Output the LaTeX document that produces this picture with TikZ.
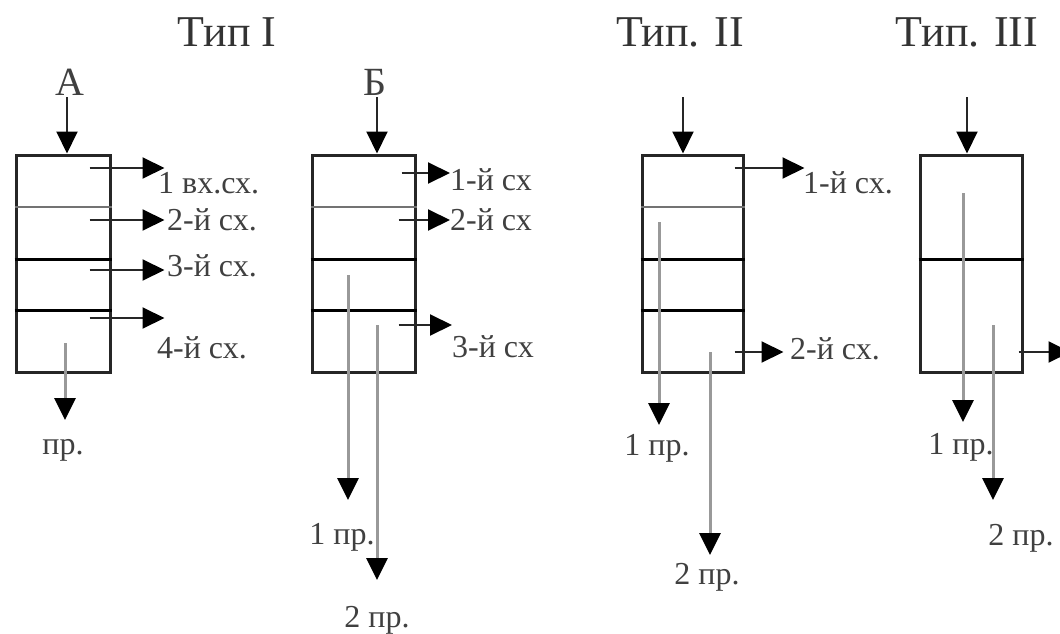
\documentclass[tikz,border=0pt]{standalone}
\usepackage{fontspec}
\setmainfont{Liberation Serif}
\usetikzlibrary{arrows.meta}
\tikzset{
  box/.style={draw=black!85, line width=3pt, inner sep=0pt, minimum height=217pt},
  septhin/.style={draw=black!55, line width=2pt},
  septhick/.style={draw=black, line width=3pt},
  arr/.style={draw=black!85, line width=2pt, -{Triangle[length=22pt,width=21pt,color=black]}},
  outarr/.style={draw=black!40, line width=3pt, -{Triangle[length=22pt,width=21pt,color=black]}},
  lbl/.style={font=\fontsize{32}{36}\selectfont, text=black!75, inner sep=0pt},
  ttl/.style={font=\fontsize{44}{48}\selectfont, text=black!80, inner sep=0pt},
  letter/.style={font=\fontsize{40}{44}\selectfont, text=black!75, inner sep=0pt}
}
\begin{document}
\begin{tikzpicture}[x=1pt,y=-1pt]
            \useasboundingbox (0,0) rectangle (1060,634);
            \node[ttl] (t1) at (227,32) {Тип I};
            \node[ttl] (t2) at (680,32) {Тип. II};
            \node[ttl] (t3) at (967,32) {Тип. III};
            \begin{scope}
                \node[box, minimum width=94pt] (bA) at (63,263.5) {};
                \draw[septhin]  (bA.west |- 0,207) -- (bA.east |- 0,207);
                \draw[septhick] (bA.west |- 0,259) -- (bA.east |- 0,259);
                \draw[septhick] (bA.west |- 0,310) -- (bA.east |- 0,310);
                \node[letter] (iA) at (70,82) {А};
                \draw[arr] (67,97) -- (67,97 |- bA.north);
                \node[lbl, anchor=west] (a1) at (158,183) {1 вх.сх.};
                \node[lbl, anchor=west] (a2) at (167,220) {2-й сх.};
                \node[lbl, anchor=west] (a3) at (167,266) {3-й сх.};
                \node[lbl, anchor=west] (a4) at (157,348) {4-й сх.};
                \draw[arr] (bA.east |- 0,168) ++(-22,0) -- ++(75,0);
                \draw[arr] (bA.east |- 0,220) ++(-22,0) -- ++(75,0);
                \draw[arr] (bA.east |- 0,270) ++(-22,0) -- ++(75,0);
                \draw[arr] (bA.east |- 0,318) ++(-22,0) -- ++(75,0);
                \node[lbl] (pA) at (63,450) {пр.};
                \draw[outarr] (65,343) -- (65,420);
            \end{scope}
            \begin{scope}
                \node[box, minimum width=103pt] (bB) at (363.5,263.5) {};
                \draw[septhin]  (bB.west |- 0,207) -- (bB.east |- 0,207);
                \draw[septhick] (bB.west |- 0,259) -- (bB.east |- 0,259);
                \draw[septhick] (bB.west |- 0,310) -- (bB.east |- 0,310);
                \node[letter] (iB) at (375,82) {Б};
                \draw[arr] (377,97) -- (377,97 |- bB.north);
                \node[lbl, anchor=west] (b1) at (450,180) {1-й сх};
                \node[lbl, anchor=west] (b2) at (450,220) {2-й сх};
                \node[lbl, anchor=west] (b3) at (452,347) {3-й сх};
                \draw[arr] (bB.east |- 0,173) ++(-15,0) -- (b1.west |- 0,173);
                \draw[arr] (bB.east |- 0,220) ++(-18,0) -- (b2.west);
                \draw[arr] (bB.east |- 0,325) ++(-18,0) -- (b3.west |- 0,325);
                \node[lbl] (pB1) at (342,537) {1 пр.};
                \node[lbl] (pB2) at (377,620) {2 пр.};
                \draw[outarr] (348,275) -- (348,500);
                \draw[outarr] (377,325) -- (377,580);
            \end{scope}
            \begin{scope}
                \node[box, minimum width=101pt] (bC) at (692.5,263.5) {};
                \draw[septhin]  (bC.west |- 0,207) -- (bC.east |- 0,207);
                \draw[septhick] (bC.west |- 0,259) -- (bC.east |- 0,259);
                \draw[septhick] (bC.west |- 0,310) -- (bC.east |- 0,310);
                \draw[arr] (683,97) -- (683,97 |- bC.north);
                \node[lbl, anchor=west] (c1) at (803,183) {1-й сх.};
                \node[lbl, anchor=west] (c2) at (790,349) {2-й сх.};
                \draw[arr] (bC.east |- 0,168) ++(-10,0) -- ++(70,0);
                \draw[arr] (bC.east |- 0,352) ++(-10,0) -- ++(49,0);
                \node[lbl] (pC1) at (657,448) {1 пр.};
                \node[lbl] (pC2) at (707,577) {2 пр.};
                \draw[outarr] (659,222) -- (659,425);
                \draw[outarr] (710,352) -- (710,555);
            \end{scope}
            \begin{scope}
                \node[box, minimum width=102pt] (bD) at (971,263.5) {};
                \draw[septhick] (bD.west |- 0,259) -- (bD.east |- 0,259);
                \draw[arr] (967,97) -- (967,97 |- bD.north);
                \draw[arr] (bD.east |- 0,352) ++(-5,0) -- ++(52,0);
                \node[lbl] (pD1) at (961,447) {1 пр.};
                \node[lbl] (pD2) at (1021,538) {2 пр.};
                \draw[outarr] (963,193) -- (963,422);
                \draw[outarr] (993,325) -- (993,500);
            \end{scope}
        \end{tikzpicture}
\end{document}
